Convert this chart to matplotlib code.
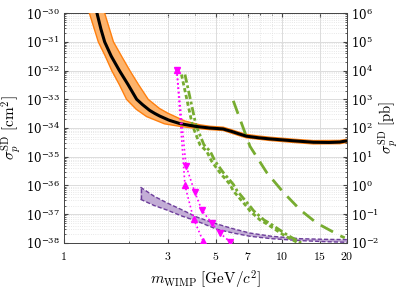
"""Spin-dependent WIMP-proton cross-section limits (recreated chart)."""

import matplotlib
matplotlib.use("Agg")
import matplotlib.pyplot as plt
from matplotlib.ticker import FixedLocator, FixedFormatter, LogLocator, NullFormatter
import numpy as np

plt.rcParams["mathtext.fontset"] = "cm"
plt.rcParams["font.family"] = ["DejaVu Serif"]

# --- data -----------------------------------------------------------------
# main limit (black) and its band (orange)
limit_mass = [1.37, 1.42, 1.48, 1.54, 1.65, 1.80, 1.97, 2.16, 2.30, 2.48, 2.62,
              2.76, 3.05, 3.41, 4.0, 4.69, 5.38, 5.9, 6.4, 6.9, 7.8, 8.8, 11.3,
              14.0, 16.5, 18.5, 20.0]
limit_xs = [3e-30, 1e-30, 2.8e-31, 1e-31, 3.2e-32, 1e-32, 3.3e-33, 1e-33,
            6.5e-34, 4.1e-34, 3.2e-34, 2.6e-34, 1.86e-34, 1.43e-34, 1.15e-34,
            1.0e-34, 9.3e-35, 7.6e-35, 6.2e-35, 5.2e-35, 4.6e-35, 4.2e-35,
            3.6e-35, 3.2e-35, 3.15e-35, 3.25e-35, 3.6e-35]

band_hi_mass = [1.50, 1.54, 1.69, 1.84, 2.01, 2.20, 2.44, 2.75, 3.0, 3.6, 4.2,
                4.7, 5.4, 5.9, 6.4, 6.9, 7.8, 8.8, 11.3, 14.0, 18.5, 20.0]
band_hi_xs = [3e-30, 1e-30, 1e-31, 3.2e-32, 1e-32, 3.3e-33, 1e-33, 4.8e-34,
              3.3e-34, 1.75e-34, 1.3e-34, 1.15e-34, 1.07e-34, 8.7e-35, 7.1e-35,
              6.0e-35, 5.3e-35, 4.8e-35, 4.1e-35, 3.65e-35, 3.7e-35, 4.1e-35]

band_lo_mass = [1.29, 1.31, 1.44, 1.55, 1.66, 1.80, 1.94, 2.15, 2.4, 2.9, 3.4,
                4.0, 4.7, 5.4, 5.9, 6.4, 6.9, 7.8, 8.8, 11.3, 14.0, 18.5, 20.0]
band_lo_xs = [3e-30, 1e-30, 1e-31, 3.2e-32, 1e-32, 3.2e-33, 1e-33, 4.5e-34,
              2.5e-34, 1.4e-34, 1.15e-34, 9.8e-35, 8.8e-35, 8.2e-35, 6.6e-35,
              5.4e-35, 4.55e-35, 4.1e-35, 3.7e-35, 3.15e-35, 2.8e-35, 2.85e-35,
              3.15e-35]

# magenta limits (up / down triangles)
up_mass = [3.30, 3.60, 3.94, 4.36]
up_xs = [1.07e-32, 1.0e-36, 7.0e-38, 1.15e-38]
down_mass = [3.30, 3.64, 4.0, 4.30, 4.77, 5.21, 5.79]
down_xs = [1.07e-32, 4.8e-36, 5.7e-37, 1.4e-37, 4.9e-38, 2.2e-38, 1.1e-38]

# green limits
green_a_mass = [3.47, 3.9, 4.22, 4.53, 4.77, 5.21, 5.79, 6.0, 6.93, 7.16, 7.96,
                8.55, 10.2, 11.9]
green_a_xs = [7.3e-33, 1.2e-34, 2.6e-35, 1.55e-35, 7e-36, 2.8e-36, 1.1e-36,
              6.5e-37, 1.8e-37, 1.3e-37, 6.3e-38, 4.6e-38, 1.9e-38, 1.0e-38]
green_b_mass = [3.6, 4.05, 4.4, 4.7, 4.95, 5.4, 6.0, 6.25, 7.2, 7.45, 8.3, 8.9,
                10.6, 12.3]
green_b_xs = green_a_xs
green_c_mass = [6.0, 6.5, 7.16, 8.55, 10.2, 12.2, 14.5, 18.5, 19.5]
green_c_xs = [8.9e-34, 1.7e-34, 2.3e-35, 2.8e-36, 5.7e-37, 1.4e-37, 4.9e-38,
              1.8e-38, 1.5e-38]

# purple band
purple_mass = [2.25, 2.6, 2.97, 3.5, 4.07, 5.03, 6.0, 7.16, 9.0, 12.2, 16.0, 20.0]
purple_hi = [8.7e-37, 4.2e-37, 2.5e-37, 1.4e-37, 8.0e-38, 4.6e-38, 3.1e-38,
             2.2e-38, 1.7e-38, 1.4e-38, 1.33e-38, 1.3e-38]
purple_lo = [3.3e-37, 2.0e-37, 1.4e-37, 8.5e-38, 5.8e-38, 3.0e-38, 2.2e-38,
             1.7e-38, 1.4e-38, 1.2e-38, 1.1e-38, 1.05e-38]

x_ticks = [1, 3, 5, 7, 10, 15, 20]
x_labels = ["$1$", "$3$", "$5$", "$7$", "$10$", "$15$", "$20$"]

# --- plotting --------------------------------------------------------------
fig = plt.figure(figsize=(3.99, 2.93), dpi=100)
ax = fig.add_axes([0.160, 0.171, 0.710, 0.784])
ax.set_xscale("log")
ax.set_yscale("log")
ax.set_xlim(1, 20)
ax.set_ylim(1e-38, 1e-30)

orange = "#ff7f0e"
ax.fill(band_hi_mass + band_lo_mass[::-1], band_hi_xs + band_lo_xs[::-1],
        facecolor="#fdb36b", edgecolor=orange, lw=1.0, zorder=3)
ax.plot(limit_mass, limit_xs, color="black", lw=2.2, zorder=4,
        solid_joinstyle="round")

purple = "#6c3d9a"
ax.fill(purple_mass + purple_mass[::-1], purple_hi + purple_lo[::-1],
        facecolor="#c3add6", edgecolor="none", zorder=2)
ax.plot(purple_mass, purple_hi, color=purple, lw=1.0, ls=(0, (3, 1.5)), zorder=2)
ax.plot(purple_mass, purple_lo, color=purple, lw=1.0, ls=(0, (3, 1.5)), zorder=2)
ax.plot([purple_mass[0]] * 2, [purple_lo[0], purple_hi[0]], color=purple,
        lw=1.0, ls=(0, (3, 1.5)), zorder=2)

green = "#77ac30"
ax.plot(green_a_mass, green_a_xs, color=green, lw=2.0, ls=(0, (1.5, 1)), zorder=3)
ax.plot(green_b_mass, green_b_xs, color=green, lw=2.0, ls=(0, (3, 1, 1, 1)), zorder=3)
ax.plot(green_c_mass, green_c_xs, color=green, lw=2.0, ls=(0, (5, 3)), zorder=3)

magenta = "#ff00ff"
ax.plot(up_mass, up_xs, color=magenta, lw=1.2, ls=":", marker="^", ms=5,
        zorder=5)
ax.plot(down_mass, down_xs, color=magenta, lw=1.2, ls=":", marker="v", ms=5,
        zorder=5)

ax.xaxis.set_major_locator(FixedLocator(x_ticks))
ax.xaxis.set_major_formatter(FixedFormatter(x_labels))
ax.xaxis.set_minor_locator(LogLocator(base=10, subs=np.arange(2, 10)))
ax.xaxis.set_minor_formatter(NullFormatter())
ax.yaxis.set_major_locator(LogLocator(base=10, numticks=20))
ax.yaxis.set_minor_locator(LogLocator(base=10, subs=np.arange(2, 10), numticks=20))
ax.yaxis.set_minor_formatter(NullFormatter())

ax.grid(which="major", color="#dcdcdc", lw=0.7, zorder=0)
ax.grid(which="minor", color="#e0e0e0", lw=0.6, ls=":", zorder=0)
ax.set_axisbelow(True)
ax.tick_params(which="both", direction="in", top=True, labelsize=8.5,
               color="#444444")
ax.tick_params(which="major", length=3)
ax.tick_params(which="minor", length=1.5)
ax.tick_params(axis="x", pad=5)
ax.tick_params(axis="y", pad=3)
for s in ax.spines.values():
    s.set_color("#444444")
    s.set_linewidth(0.7)

ax.set_xlabel(r"$m_{\rm WIMP}\ [{\rm GeV}/c^2]$", fontsize=11, labelpad=4)
ax.set_ylabel(r"$\sigma_p^{\rm SD}\ [{\rm cm}^2]$", fontsize=11, labelpad=2)

ax2 = ax.twinx()
ax2.set_yscale("log")
ax2.set_ylim(1e-2, 1e6)
ax2.yaxis.set_major_locator(LogLocator(base=10, numticks=20))
ax2.yaxis.set_minor_locator(LogLocator(base=10, subs=np.arange(2, 10), numticks=20))
ax2.yaxis.set_minor_formatter(NullFormatter())
ax2.tick_params(which="both", direction="in", labelsize=8.5, pad=3,
                color="#444444")
ax2.tick_params(which="major", length=3)
ax2.tick_params(which="minor", length=1.5)
ax2.set_ylabel(r"$\sigma_p^{\rm SD}\ [{\rm pb}]$", fontsize=10.5, labelpad=-2)
for s in ax2.spines.values():
    s.set_visible(False)

fig.savefig("out.png", dpi=100)
